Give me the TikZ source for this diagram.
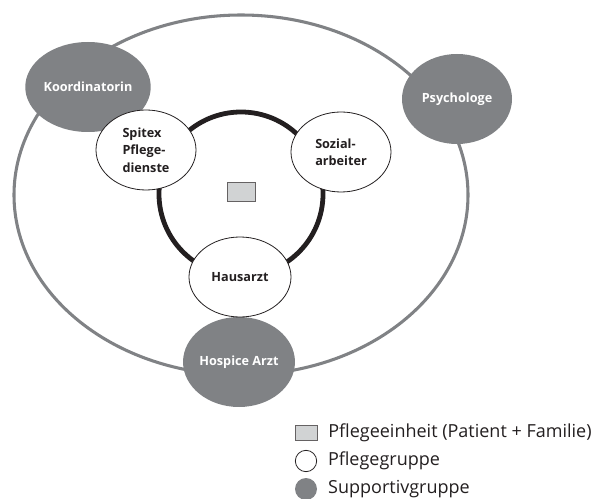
\documentclass[tikz,border=0pt]{standalone}
\usepackage{fontspec}
\setmainfont{Open Sans}
\usetikzlibrary{shapes.geometric}

\definecolor{supgray}{HTML}{808285}
\definecolor{inkblack}{HTML}{231F20}
\definecolor{unitgray}{HTML}{D1D3D4}

\begin{document}
\begin{tikzpicture}[
    x=0.75pt, y=-0.75pt,
    font=\fontsize{9.5}{13}\selectfont\bfseries,
    care/.style={
        ellipse, draw=inkblack, line width=0.6pt, fill=white,
        minimum width=75pt, minimum height=60pt, inner sep=0pt,
        align=left, text=inkblack,
        font=\fontsize{9.5}{13}\selectfont\bfseries
    },
    support/.style={
        ellipse, fill=supgray, minimum width=78pt, minimum height=67.5pt,
        inner sep=0pt, align=center, text=white
    },
    unit/.style={
        rectangle, draw=inkblack!70, line width=0.6pt, fill=unitgray,
        minimum width=21pt, minimum height=14.5pt, inner sep=0pt
    },
    legtext/.style={
        anchor=west, inner sep=0pt, text=inkblack,
        font=\fontsize{13.5}{15}\selectfont
    }
]
\useasboundingbox (0,0) rectangle (597,499);

%% ─── OUTER RING (support group) ─────────────────────────────────────────

\draw[supgray, line width=2.3pt] (241,195) ellipse [x radius=227, y radius=180];

%% ─── SUPPORT NODES ──────────────────────────────────────────────────────

\node[support, minimum width=75pt]   (koord)   at (88,87)   {Koordinatorin};
\node[support, minimum width=82.5pt] (psych)   at (457,99)  {Psychologe};
\node[support, minimum width=79.5pt] (hospice) at (239,362) {Hospice Arzt};

%% ─── INNER RING (care group) ────────────────────────────────────────────

\draw[inkblack, line width=3.6pt] (241,194) circle [radius=82];

\node[care]                        (spitex)  at (146,150) {Spitex\\Pflege-\\dienste};
\node[care]                        (sozial)  at (341,152) {Sozial-\\arbeiter};
\node[care, minimum width=76.5pt]  (hausarzt) at (240,277) {Hausarzt};

% patient + family
\node[unit] (patient) at (241.5,192) {};

%% ─── LEGEND ─────────────────────────────────────────────────────────────

\node[unit, minimum width=16.5pt, minimum height=11.5pt] (legunit) at (306,433) {};
\node[legtext] (legunittext) at ([xshift=8pt]legunit.east) {Pflegeeinheit (Patient + Familie)};

\node[circle, draw=inkblack, line width=0.6pt, fill=white,
      minimum size=16pt, inner sep=0pt] (legcare) at (306,461) {};
\node[legtext] (legcaretext) at ([xshift=8pt]legcare.east) {Pflegegruppe};

\node[circle, fill=supgray, minimum size=16.5pt, inner sep=0pt] (legsup) at (306,489) {};
\node[legtext] (legsuptext) at ([xshift=8pt]legsup.east) {Supportivgruppe};

\end{tikzpicture}
\end{document}
